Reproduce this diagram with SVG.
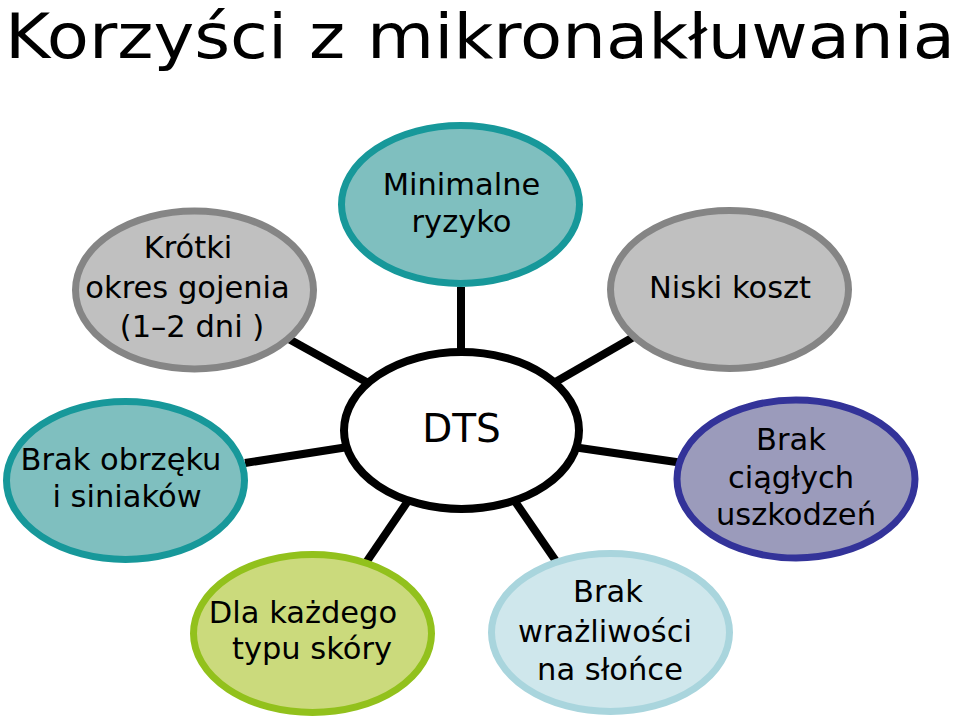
<svg xmlns="http://www.w3.org/2000/svg" width="960" height="722" viewBox="0 0 960 722">
<style>
.t{font-family:"DejaVu Sans","Liberation Sans",sans-serif;font-size:30.5px;fill:#000;text-anchor:middle}
.n{stroke-width:7}
.grey{fill:#c0c0c0;stroke:#858585}
.teal{fill:#7fbfbf;stroke:#17989a}
.lav{fill:#9b9bbb;stroke:#333399}
.lblue{fill:#cfe7ec;stroke:#a9d5dd}
.green{fill:#cbda7c;stroke:#92c11c}
.c line{stroke:#000;stroke-width:8}
</style>
<rect width="960" height="722" fill="#fff"/>
<text x="5" y="58" font-family="DejaVu Sans, Liberation Sans, sans-serif" font-size="62" textLength="950" lengthAdjust="spacingAndGlyphs">Korzyści z mikronakłuwania</text>
<g id="connectors" class="c">
<line x1="461" y1="287" x2="461" y2="352"/>
<line x1="287" y1="338" x2="370" y2="384"/>
<line x1="552" y1="384" x2="637" y2="335"/>
<line x1="245" y1="463" x2="348" y2="447"/>
<line x1="573" y1="447" x2="683" y2="463"/>
<line x1="410" y1="498" x2="363" y2="567"/>
<line x1="512" y1="497" x2="560" y2="567"/>
</g>
<g id="dts">
<ellipse cx="461.5" cy="430.5" rx="117.5" ry="78.5" fill="#fff" stroke="#000" stroke-width="8"/>
<text class="t" x="461.5" y="442" style="font-size:39px">DTS</text>
</g>
<g id="krotki">
<ellipse class="n grey" cx="194.5" cy="290" rx="119" ry="79"/>
<text class="t" x="188" y="258">Krótki</text>
<text class="t" x="187.5" y="297.5">okres gojenia</text>
<text class="t" x="192" y="337">(1–2 dni )</text>
</g>
<g id="minimalne">
<ellipse class="n teal" cx="460.5" cy="204.5" rx="119" ry="79"/>
<text class="t" x="461.5" y="195">Minimalne</text>
<text class="t" x="461.5" y="232">ryzyko</text>
</g>
<g id="niski">
<ellipse class="n grey" cx="729.5" cy="289.5" rx="119" ry="79"/>
<text class="t" x="730" y="298">Niski koszt</text>
</g>
<g id="obrzek">
<ellipse class="n teal" cx="125.5" cy="480.5" rx="119" ry="79"/>
<text class="t" x="121" y="470">Brak obrzęku</text>
<text class="t" x="127" y="507">i siniaków</text>
</g>
<g id="ciaglych">
<ellipse class="n lav" cx="796" cy="479" rx="119" ry="79"/>
<text class="t" x="791" y="450">Brak</text>
<text class="t" x="791" y="488">ciągłych</text>
<text class="t" x="796" y="525">uszkodzeń</text>
</g>
<g id="skora">
<ellipse class="n green" cx="312.5" cy="633.5" rx="119" ry="79"/>
<text class="t" x="303" y="623">Dla każdego</text>
<text class="t" x="312" y="659">typu skóry</text>
</g>
<g id="slonce">
<ellipse class="n lblue" cx="610.5" cy="632.5" rx="119" ry="79"/>
<text class="t" x="608" y="602">Brak</text>
<text class="t" x="605" y="642">wrażliwości</text>
<text class="t" x="610" y="680">na słońce</text>
</g>
</svg>
